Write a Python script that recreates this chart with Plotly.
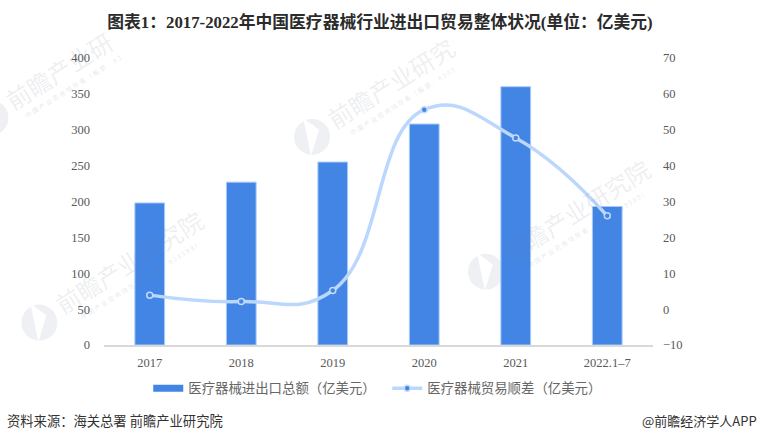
import plotly.graph_objects as go

# donnees
annees = ["2017", "2018", "2019", "2020", "2021", "2022.1–7"]
total = [198, 227, 255, 308, 360, 193]
solde = [3.9, 2.1, 5.2, 55.6, 47.7, 26]
ticks_gauche = [0, 50, 100, 150, 200, 250, 300, 350, 400]
ticks_droite = [-10, 0, 10, 20, 30, 40, 50, 60, 70]

titre = "图表1：2017-2022年中国医疗器械行业进出口贸易整体状况(单位：亿美元)"
nom_total = "医疗器械进出口总额（亿美元）"
nom_solde = "医疗器械贸易顺差（亿美元）"
source = "资料来源：海关总署 前瞻产业研究院"
signature = "@前瞻经济学人APP"

W, H = 760, 442
G, D, HT, BS = 103.7, 653.3, 58, 345.5
SERIF = "Liberation Serif, Noto Sans CJK SC"
SANS = "Noto Sans CJK SC"


# pixels -> coordonnees paper
def px_x(x):
    return (x - G) / (D - G)


def px_y(y):
    return (BS - y) / (BS - HT)


fig = go.Figure()
fig.add_trace(go.Bar(x=annees, y=total, name=nom_total, width=0.325, showlegend=False,
                     marker=dict(color="#4285E4", line=dict(color="#A9CBF8", width=1))))
# entree de legende large pour les barres
fig.add_trace(go.Scatter(x=[None], y=[None], name=nom_total, mode="lines",
                         line=dict(color="#4285E4", width=7)))
fig.add_trace(go.Scatter(x=annees, y=solde, name=nom_solde, yaxis="y2", mode="lines+markers",
                         line=dict(color="#BBD7FD", width=3.5, shape="spline", smoothing=1.3),
                         marker=dict(color="#4285E4", size=6, line=dict(color="#C4DCFD", width=1.5)),
                         cliponaxis=False))

annots = []
shapes = []

# filigranes : logo + deux lignes de texte
filigranes = [
    (-10, 118, "前瞻产业研", "中国产业咨询领导者（股票：83"),
    (312, 137, "前瞻产业研究", "中国产业咨询领导者（股票：8395"),
    (39, 323, "前瞻产业研究院", "中国产业咨询领导者（股票：839599）"),
    (486, 272, "前瞻产业研究院", "中国产业咨询领导者（股票：839599）"),
]
for lx, ly, t1, t2 in filigranes:
    shapes.append(dict(type="circle", xref="paper", yref="paper", layer="below",
                       x0=px_x(lx - 18), x1=px_x(lx + 18), y0=px_y(ly + 18), y1=px_y(ly - 18),
                       fillcolor="#EEF0F4", line=dict(width=0)))
    encoche = "M%f,%f L%f,%f L%f,%f Z" % (px_x(lx - 9), px_y(ly - 19), px_x(lx + 7), px_y(ly - 7),
                                          px_x(lx - 1), px_y(ly + 19))
    shapes.append(dict(type="path", xref="paper", yref="paper", layer="below", path=encoche,
                       fillcolor="white", line=dict(width=0)))
    # le texte tronque garde le meme point de depart
    r1 = len(t1) / 7
    r2 = len(t2) / 20
    annots.append(dict(text=t1, x=px_x(lx + 14 + 76 * r1), y=px_y(ly - 13 - 48 * r1), xref="paper", yref="paper",
                       showarrow=False, textangle=-32, xanchor="center", yanchor="middle",
                       font=dict(family=SANS, size=24, color="rgba(120,130,150,0.14)")))
    annots.append(dict(text=" ".join(t2), x=px_x(lx + 29 + 72 * r2), y=px_y(ly + 3 - 46 * r2), xref="paper", yref="paper",
                       showarrow=False, textangle=-32, xanchor="center", yanchor="middle",
                       font=dict(family=SANS, size=6.5, color="rgba(120,130,150,0.2)")))

annots.append(dict(text=source, x=px_x(5), y=px_y(421), xref="paper", yref="paper", showarrow=False,
                   xanchor="left", yanchor="middle", font=dict(family=SANS, size=13.3, color="#333333")))
annots.append(dict(text=signature, x=px_x(759), y=px_y(421), xref="paper", yref="paper", showarrow=False,
                   xanchor="right", yanchor="middle", font=dict(family=SANS, size=13, color="#333333")))

fig.update_layout(
    width=W, height=H,
    margin=dict(l=G, r=W - D, t=HT, b=H - BS, autoexpand=False),
    paper_bgcolor="white", plot_bgcolor="rgba(0,0,0,0)",
    title=dict(text=titre, x=380 / W, y=1 - 22 / H, xanchor="center", yanchor="middle",
               font=dict(family=SERIF, size=16.8, color="#2B2B2B", weight="bold")),
    xaxis=dict(type="category", categoryorder="array", categoryarray=annees, range=[-0.5, 5.5],
               showline=True, linecolor="#D9D9D9", linewidth=2, ticks="", showgrid=False, ticklabelstandoff=5,
               tickfont=dict(family=SERIF, size=12.5, color="#595959")),
    yaxis=dict(range=[0, 400], tickvals=ticks_gauche, showgrid=False, zeroline=False, ticks="",
               ticklabelstandoff=13, tickfont=dict(family=SERIF, size=12.5, color="#595959")),
    yaxis2=dict(range=[-10, 70], tickvals=ticks_droite, overlaying="y", side="right", showgrid=False,
                zeroline=False, ticks="", ticklabelstandoff=9,
                tickfont=dict(family=SERIF, size=12.5, color="#595959")),
    legend=dict(orientation="h", x=px_x(148), y=px_y(389), xanchor="left", yanchor="middle",
                itemwidth=30, entrywidth=194, entrywidthmode="pixels",
                font=dict(family=SANS, size=13.4, color="#666666"), traceorder="normal"),
    shapes=shapes, annotations=annots, showlegend=True,
)

# la page ajoute une marge de 8 px autour du graphique
fig.write_html("out.html", config={"displayModeBar": False}, post_script="document.body.style.margin='0';")
